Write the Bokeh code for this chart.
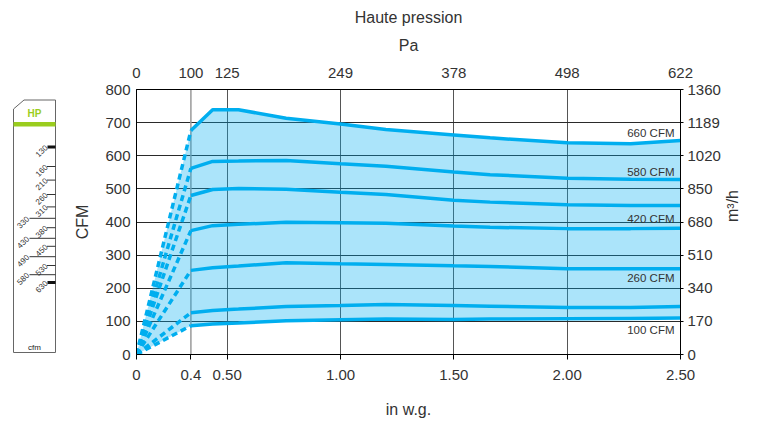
import math
import numpy as np
from bokeh.plotting import figure
from bokeh.models import Range1d, LinearAxis, FixedTicker, Span
from bokeh.layouts import row
from bokeh.embed import file_html
from bokeh.resources import INLINE
from bokeh.core.properties import value

# ---------------- data ----------------
in_wg = [0.4, 0.46, 0.55, 0.76, 1.0, 1.2, 1.5, 1.66, 2.0, 2.28, 2.5]
cfm_660 = [676, 739, 739, 713, 696, 679, 663, 654, 639, 636, 646]
cfm_580 = [562, 583, 584, 586, 576, 568, 551, 543, 532, 529, 528]
cfm_500 = [480, 498, 501, 499, 490, 483, 466, 460, 452, 450, 450]
cfm_420 = [374, 389, 393, 399, 398, 396, 388, 384, 380, 380, 381]
cfm_260 = [254, 262, 267, 277, 274, 272, 268, 266, 259, 259, 259]
cfm_150 = [126, 133, 137, 145, 148, 151, 148, 146, 142, 142, 145]
cfm_100 = [87, 92, 95, 102, 105, 107, 106, 107, 108, 109, 110]
series = [cfm_660, cfm_580, cfm_500, cfm_420, cfm_260, cfm_150, cfm_100]

curve_labels = ["660 CFM", "580 CFM", "420 CFM", "260 CFM", "100 CFM"]

wg_ticks = [0, 0.4, 0.5, 1.0, 1.5, 2.0, 2.5]
wg_labels = ["0", "0.4", "0.50", "1.00", "1.50", "2.00", "2.50"]
pa_labels = ["0", "100", "125", "249", "378", "498", "622"]
cfm_ticks = [0, 100, 200, 300, 400, 500, 600, 700, 800]
m3h_labels = ["0", "170", "340", "510", "680", "850", "1020", "1189", "1360"]

gauge_labels = ["130", "160", "210", "260", "310", "330", "380", "430", "450", "490", "530", "580", "630"]

# ---------------- layout / style ----------------
FONT = "Liberation Sans"
TXT = "#333333"
BLUE = "#00aeef"
GREEN = "#9acd1e"
TICK_FS = "15px"

# non-linear horizontal scale of the original chart
XW = [0, 0.4, 0.5, 2.5]
XU = [0.1, 0.34, 0.5, 2.5]


def xd(v):
    return [round(float(t), 6) for t in np.interp(v, XW, XU)]


label_y = [668, 552, 410, 232, 75]

TOP, FH, BOT = 89, 265, 60

p = figure(frame_width=544, frame_height=FH,
           x_range=Range1d(0.1, 2.5), y_range=Range1d(0, 800),
           output_backend="svg", toolbar_location=None,
           min_border_left=70, min_border_right=71,
           min_border_top=TOP, min_border_bottom=BOT)
p.outline_line_color = "black"
p.outline_line_width = 1


def style_axis(ax, tick_out, standoff):
    ax.major_label_text_font = FONT
    ax.major_label_text_font_size = TICK_FS
    ax.major_label_text_color = TXT
    ax.axis_label_text_font = FONT
    ax.axis_label_text_font_size = "16px"
    ax.axis_label_text_font_style = "normal"
    ax.axis_label_text_color = TXT
    ax.axis_line_color = "black"
    ax.major_tick_line_color = "black"
    ax.major_tick_out = tick_out
    ax.major_tick_in = 0
    ax.minor_tick_out = 0
    ax.minor_tick_in = 0
    ax.major_label_standoff = standoff


xt = xd(wg_ticks)
bx = p.xaxis[0]
bx.ticker = FixedTicker(ticks=xt)
bx.major_label_overrides = {t: s for t, s in zip(xt, wg_labels)}
bx.axis_label = "in w.g."
style_axis(bx, 5, 10)
bx.axis_label_standoff = 18

tx = LinearAxis(ticker=FixedTicker(ticks=xt),
                major_label_overrides={t: s for t, s in zip(xt, pa_labels)},
                axis_label="Pa")
style_axis(tx, 0, 12)
tx.axis_label_standoff = 11
p.add_layout(tx, "above")

# chart title drawn as the label of an empty outer axis
hx = LinearAxis(ticker=FixedTicker(ticks=[]), axis_label="Haute pression")
style_axis(hx, 0, 0)
hx.axis_line_color = None
hx.axis_label_standoff = 8
p.add_layout(hx, "above")

ly = p.yaxis[0]
ly.ticker = FixedTicker(ticks=cfm_ticks)
ly.axis_label = "CFM"
style_axis(ly, 0, 6)
ly.axis_label_standoff = 11

ry = LinearAxis(ticker=FixedTicker(ticks=cfm_ticks),
                major_label_overrides={t: s for t, s in zip(cfm_ticks, m3h_labels)},
                axis_label="m³/h")
style_axis(ry, 3, 4)
ry.axis_label_standoff = 9
ry.axis_label_orientation = math.pi / 2
p.add_layout(ry, "right")

p.xgrid.ticker = FixedTicker(ticks=xd([0.5, 1.0, 1.5, 2.0]))
p.xgrid.grid_line_color = "#555555"
p.ygrid.ticker = FixedTicker(ticks=cfm_ticks[1:-1])
p.ygrid.grid_line_color = "#2a2a2a"
p.add_layout(Span(location=xd([0.4])[0], dimension="height",
                  line_color="#9a9a9a", line_width=1.5, level="underlay"))

# filled envelope
env_x = xd([0] + in_wg + in_wg[::-1])
env_y = [0] + cfm_660 + cfm_100[::-1]
p.patch(env_x, env_y, fill_color=BLUE, fill_alpha=0.33, line_color=None)

for s in series:
    p.line(xd(in_wg), s, line_color=BLUE, line_width=3.5)
    p.line(xd([0, in_wg[0]]), [0, s[0]], line_color=BLUE, line_width=3.5,
           line_dash="6 4")

p.text(x=[xd([2.5])[0]] * len(curve_labels), y=label_y, text=curve_labels,
       x_offset=-6, text_align="right", text_baseline="middle",
       text_font=value(FONT), text_font_size="11.5px", text_color=TXT)

# ---------------- gauge icon (coordinates = page pixels) ----------------
g = figure(frame_width=66, frame_height=FH,
           x_range=Range1d(0, 66), y_range=Range1d(TOP + FH, TOP),
           output_backend="svg", toolbar_location=None,
           x_axis_location=None, y_axis_location=None,
           min_border_left=0, min_border_right=0,
           min_border_top=TOP, min_border_bottom=BOT)
g.grid.visible = False
g.outline_line_color = None

g.patch([13, 23.5, 55, 55, 13], [108.5, 99.5, 99.5, 352, 352],
        fill_color="white", line_color="#666666", line_width=1)
g.quad(left=13, right=55, top=121.5, bottom=126, fill_color=GREEN, line_color=None)
g.text(x=[34], y=[112.5], text=["HP"], text_align="center", text_baseline="middle",
       text_font=value(FONT), text_font_size="10px", text_font_style="bold",
       text_color=GREEN)

gauge_y = [146.5, 166, 179.6, 194, 206.4, 217.8, 227.2, 237.8, 245.8, 256.2, 265, 274.2, 282]
long_ticks = {"330", "430", "490", "580"}
thick_ticks = {"130", "630"}
for lab, y in zip(gauge_labels, gauge_y):
    if lab in long_ticks:
        g.segment(x0=[29], x1=[55], y0=[y], y1=[y], line_color="#333333", line_width=1)
        lx = 27.5
    elif lab in thick_ticks:
        g.quad(left=47, right=55, top=y - 1.6, bottom=y + 1.6, fill_color="#111111", line_color=None)
        lx = 46
    else:
        g.segment(x0=[46.5], x1=[55], y0=[y], y1=[y], line_color="#333333", line_width=1)
        lx = 46
    g.text(x=[lx], y=[y - 0.5], text=[lab], angle=math.pi / 4,
           text_align="right", text_baseline="middle",
           text_font=value(FONT), text_font_size="8px", text_color=TXT)

g.text(x=[34], y=[346.5], text=["cfm"], text_align="center", text_baseline="middle",
       text_font=value(FONT), text_font_size="8px", text_color="#222222")

layout = row(g, p)
open("out.html", "w").write(file_html(layout, INLINE))
